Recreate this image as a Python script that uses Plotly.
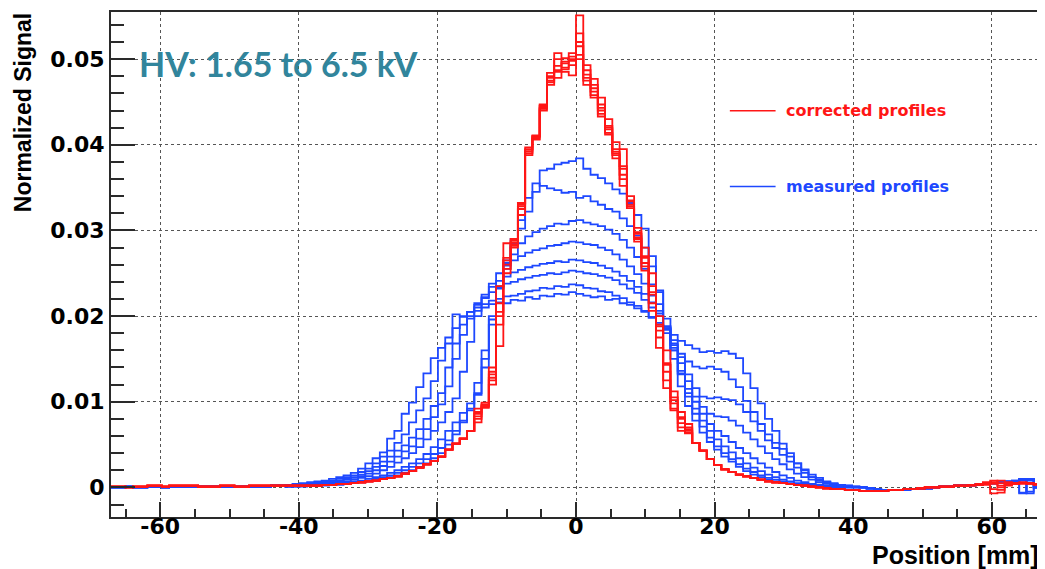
import numpy as np
import plotly.graph_objects as go

# ---------------- binning (histogram definition) ----------------
n_bins = 128
x_lo, x_hi = -67.1, 67.1
unit = 1e-4  # all values below are in units of 1e-4

# ---------------- corrected profiles (red) ----------------
# bins 0-49 (shared left tail)
red_left = [1, 1, 0, 1, 1, 2, 2, 1, 2, 2, 2, 2, 1, 1, 1, 2, 2, 1, 1, 2,
            2, 2, 2, 2, 2, 2, 2, 2, 2, 3,
            3, 4, 4, 5, 6, 7, 8, 10, 11, 13,
            16, 19, 23, 27, 31, 36, 44, 51, 57, 66]
# bins 50-79 (core, one list per profile)
red_core_1 = [80, 95, 125, 190, 255, 282, 325, 390, 407, 442, 475, 487, 495, 503, 551,
              487, 470, 447, 422, 395, 372, 335, 298, 270, 235, 188, 143, 102, 80, 70]
red_core_2 = [88, 97, 135, 215, 268, 288, 332, 395, 410, 446, 480, 500, 490, 498, 530,
              478, 462, 440, 418, 390, 365, 330, 292, 262, 225, 183, 135, 98, 75, 66]
red_core_3 = [92, 99, 140, 235, 285, 290, 330, 388, 406, 443, 484, 507, 501, 507, 520,
              493, 477, 455, 430, 403, 395, 340, 303, 280, 250, 200, 160, 112, 88, 74]
red_core_4 = [76, 93, 120, 165, 250, 280, 318, 392, 410, 445, 470, 478, 485, 481, 505,
              475, 458, 436, 414, 388, 360, 328, 290, 258, 215, 175, 125, 92, 70, 64]
red_core_5 = [86, 96, 128, 200, 260, 284, 328, 394, 409, 440, 478, 492, 497, 500, 515,
              482, 466, 443, 420, 392, 375, 334, 296, 268, 228, 190, 145, 105, 82, 68]
red_core_6 = [83, 94, 132, 205, 265, 286, 332, 397, 411, 447, 473, 485, 488, 493, 500,
              470, 455, 433, 412, 384, 352, 326, 287, 253, 206, 163, 116, 90, 66, 63]
# bins 80-117 (shared right tail)
red_right = [52, 43, 33, 26, 21, 18, 15, 13, 11, 9, 7, 6, 5, 4, 3, 2, 1, 0, -1, -2,
             -2, -3, -3, -4, -4, -4, -4, -3, -3, -2, -2, -1, 0, 0, 1, 1, 2, 2]
# bins 118-127 (edge, one list per profile)
red_edge_1 = [3, 3, 4, 8, 5, 4, 5, 5, 4, 3]
red_edge_2 = [3, 4, 5, -7, -6, 3, 4, 5, 5, 4]
red_edge_3 = [3, 4, 6, 4, 8, 6, 5, 6, 5, 4]
red_edge_4 = [2, 3, 4, -2, -3, 2, 4, 4, 4, 3]
red_edge_5 = [3, 3, 4, 5, 2, 4, 5, 5, 5, 4]
red_edge_6 = [2, 3, 3, 6, 0, 3, 4, 5, 5, 4]

# ---------------- measured profiles (blue) ----------------
# bins 0-23 (shared left tail)
blue_left = [0, 0, 1, 0, 0, 1, 1, 0, 1, 1, 1, 1, 1, 1, 1, 1, 1, 1, 1, 1, 1, 1, 2, 2]
# bins 24-103 (core, one list per profile)
blue_core_1 = [1, 1, 1, 2, 2, 2, 3, 3, 4, 5,
               6, 7, 8, 10, 12, 14, 17, 20, 24, 28,
               34, 40, 50, 62, 76, 90, 108, 140, 190, 235,
               262, 285, 302, 322, 345, 370, 372, 377, 379, 381,
               384, 372, 365, 361, 355, 348, 343, 332, 318, 302,
               270, 228, 186, 150, 118, 95, 78, 64, 53, 44,
               36, 30, 24, 19, 15, 12, 9, 7, 5, 4,
               3, 2, 2, 1, 1, 0, 0, 0, 0, 0]
blue_core_2 = [1, 1, 2, 2, 2, 3, 3, 4, 5, 6,
               7, 8, 10, 12, 14, 17, 20, 24, 28, 33,
               39, 46, 55, 66, 78, 92, 110, 150, 196, 234,
               265, 290, 312, 338, 355, 352, 349, 347, 344, 345,
               338, 340, 334, 330, 325, 322, 314, 305, 294, 280,
               258, 230, 197, 163, 132, 106, 86, 71, 58, 48,
               40, 33, 27, 22, 18, 14, 11, 9, 7, 5,
               4, 3, 2, 2, 1, 1, 0, 0, 0, 0]
blue_core_3 = [1, 2, 2, 2, 3, 3, 4, 5, 6, 7,
               8, 10, 12, 14, 17, 20, 24, 28, 33, 39,
               47, 56, 66, 76, 87, 98, 122, 160, 200, 232,
               255, 272, 285, 293, 298, 302, 305, 308, 307, 311,
               312, 309, 307, 305, 301, 296, 289, 280, 269, 255,
               237, 214, 188, 160, 133, 110, 92, 78, 66, 56,
               48, 41, 34, 28, 23, 19, 15, 12, 9, 7,
               5, 4, 3, 2, 2, 1, 1, 0, 0, 0]
blue_core_4 = [2, 2, 3, 3, 4, 4, 5, 6, 7, 9,
               11, 13, 16, 20, 24, 29, 34, 40, 47, 56,
               66, 76, 88, 104, 135, 170, 200, 222, 238, 250,
               259, 265, 270, 274, 277, 279, 282, 283, 285, 287,
               286, 284, 283, 280, 277, 272, 266, 258, 249, 238,
               224, 206, 184, 160, 136, 115, 100, 86, 74, 66,
               60, 53, 46, 40, 34, 28, 23, 18, 14, 11,
               8, 6, 4, 3, 2, 2, 1, 1, 0, 0]
blue_core_5 = [2, 3, 3, 4, 4, 5, 6, 7, 9, 11,
               13, 16, 20, 25, 30, 36, 42, 48, 57, 68,
               82, 97, 118, 150, 178, 200, 215, 225, 234, 241,
               246, 251, 254, 257, 259, 261, 262, 264, 263, 266,
               265, 263, 262, 259, 256, 252, 247, 241, 234, 226,
               216, 203, 186, 166, 145, 124, 106, 94, 86, 83,
               82, 78, 72, 64, 56, 48, 40, 33, 27, 21,
               16, 12, 9, 6, 4, 3, 2, 1, 1, 0]
blue_core_6 = [3, 3, 4, 4, 5, 6, 7, 8, 10, 12,
               15, 19, 24, 30, 36, 43, 49, 58, 68, 80,
               95, 110, 140, 168, 190, 205, 213, 221, 228, 233,
               238, 240, 243, 245, 247, 248, 250, 249, 251, 253,
               252, 250, 249, 247, 245, 242, 237, 232, 227, 219,
               210, 200, 188, 172, 152, 132, 116, 106, 104, 105,
               103, 102, 97, 88, 77, 66, 55, 46, 38, 30,
               23, 17, 12, 8, 6, 4, 3, 2, 1, 0]
blue_core_7 = [3, 4, 4, 5, 6, 7, 8, 10, 12, 14,
               18, 22, 28, 36, 43, 52, 62, 76, 90, 104,
               124, 148, 168, 186, 200, 205, 210, 214, 218, 220,
               223, 224, 226, 229, 230, 233, 232, 235, 234, 237,
               236, 233, 232, 229, 228, 224, 221, 216, 212, 206,
               199, 190, 180, 168, 156, 147, 141, 139, 141, 138,
               135, 126, 117, 101, 88, 74, 62, 52, 45, 36,
               28, 21, 15, 11, 7, 5, 3, 2, 1, 0]
blue_core_8 = [3, 4, 5, 6, 7, 8, 10, 12, 14, 17,
               22, 28, 34, 41, 57, 66, 86, 99, 117, 133,
               151, 163, 175, 202, 199, 197, 206, 210, 214, 216,
               215, 219, 218, 222, 220, 224, 223, 226, 225, 228,
               226, 224, 222, 223, 219, 220, 215, 213, 209, 205,
               198, 192, 185, 178, 171, 166, 162, 158, 159, 157,
               159, 156, 151, 133, 116, 98, 80, 66, 51, 40,
               28, 20, 12, 9, 6, 4, 3, 2, 1, 0]
# bins 104-117 (shared right tail)
blue_right = [-1, -2, -3, -3, -3, -3, -2, -2, -1, 0, 1, 1, 2, 3]
# bins 118-127 (edge, one list per profile)
blue_edge_1 = [3, 4, 5, 5, 6, 7, 8, 10, -7, 0]
blue_edge_2 = [3, 4, 4, 5, 6, 6, 7, 9, 10, 0]
blue_edge_3 = [3, 3, 4, 5, 5, 6, 7, -6, 9, 0]
blue_edge_4 = [3, 4, 4, 5, 6, 7, 8, 10, -5, 0]
blue_edge_5 = [2, 3, 4, 5, 5, 6, 7, 8, 9, 0]
blue_edge_6 = [3, 4, 5, 5, 6, 7, 7, 9, 10, 0]
blue_edge_7 = [3, 3, 4, 5, 6, 6, 7, -7, 8, 0]
blue_edge_8 = [2, 3, 4, 4, 5, 6, 7, 9, 10, 0]

# ---------------- text ----------------
x_tick_vals = [-60, -40, -20, 0, 20, 40, 60]
x_tick_text = ["-60", "-40", "-20", "0", "20", "40", "60"]
y_tick_vals = [0, 0.01, 0.02, 0.03, 0.04, 0.05]
y_tick_text = ["0", "0.01", "0.02", "0.03", "0.04", "0.05"]
x_title = "Position [mm]"
y_title = "Normalized Signal"
hv_label = "HV: 1.65 to 6.5 kV"
legend_red = "corrected profiles"
legend_blue = "measured profiles"

RED = "rgb(255,22,22)"
BLUE = "rgb(30,72,255)"

red_sets = [
    (red_core_1, red_edge_1), (red_core_2, red_edge_2), (red_core_3, red_edge_3),
    (red_core_4, red_edge_4), (red_core_5, red_edge_5), (red_core_6, red_edge_6),
]
blue_sets = [
    (blue_core_1, blue_edge_1), (blue_core_2, blue_edge_2), (blue_core_3, blue_edge_3),
    (blue_core_4, blue_edge_4), (blue_core_5, blue_edge_5), (blue_core_6, blue_edge_6),
    (blue_core_7, blue_edge_7), (blue_core_8, blue_edge_8),
]

edges = np.linspace(x_lo, x_hi, n_bins + 1)


def step_xy(values):
    v = np.asarray(values, dtype=float) * unit
    return edges, np.append(v, v[-1])


fig = go.Figure()
for core, edge in blue_sets:
    vals = blue_left + core + blue_right + edge
    xs, ys = step_xy(vals)
    fig.add_trace(go.Scatter(x=xs, y=ys, mode="lines", line=dict(color=BLUE, width=1.8, shape="hv"),
                             hoverinfo="skip", showlegend=False))
for core, edge in red_sets:
    vals = red_left + core + red_right + edge
    xs, ys = step_xy(vals)
    fig.add_trace(go.Scatter(x=xs, y=ys, mode="lines", line=dict(color=RED, width=1.8, shape="hv"),
                             hoverinfo="skip", showlegend=False))

y_lo, y_hi = -0.003456, 0.0555
axis_col = "#2a2a2a"
grid_col = "#555555"

# the page body has an 8px margin: the figure is sized/offset to compensate
fig.update_layout(
    width=1037, height=561,
    margin=dict(l=103, r=2, t=2, b=52),
    plot_bgcolor="white", paper_bgcolor="white",
    showlegend=False,
)
fig.update_xaxes(
    range=[x_lo, x_hi], tickvals=x_tick_vals, ticktext=x_tick_text,
    ticks="inside", ticklen=15, tickwidth=2, tickcolor=axis_col,
    showline=True, linecolor=axis_col, linewidth=2, mirror=True,
    showgrid=True, gridcolor=grid_col, gridwidth=1, griddash="dot", zeroline=False,
    tickfont=dict(family="DejaVu Sans", size=22, color="black", weight="bold"),
    ticklabelstandoff=-11,
    minor=dict(tick0=0, dtick=5, ticks="inside", ticklen=8, tickwidth=1.5, tickcolor=axis_col, showgrid=False),
)
fig.update_yaxes(
    range=[y_lo, y_hi], tickvals=y_tick_vals, ticktext=y_tick_text,
    ticks="inside", ticklen=24, tickwidth=2, tickcolor=axis_col,
    showline=True, linecolor=axis_col, linewidth=2, mirror=True,
    showgrid=True, gridcolor=grid_col, gridwidth=1, griddash="dot", zeroline=False,
    tickfont=dict(family="DejaVu Sans", size=22, color="black", weight="bold"),
    minor=dict(tick0=0, dtick=0.002, ticks="inside", ticklen=13, tickwidth=1.5, tickcolor=axis_col, showgrid=False),
)

# legend drawn as in the original (lines + coloured labels)
leg_x0, leg_x1, leg_tx = 22.2, 28.8, 30.0
leg_y_red, leg_y_blue = 0.04398, 0.03514
fig.add_shape(type="line", xref="x", yref="y", x0=leg_x0, x1=leg_x1, y0=leg_y_red, y1=leg_y_red,
              line=dict(color=RED, width=1.5))
fig.add_shape(type="line", xref="x", yref="y", x0=leg_x0, x1=leg_x1, y0=leg_y_blue, y1=leg_y_blue,
              line=dict(color=BLUE, width=1.5))
fig.add_annotation(x=leg_tx, y=leg_y_red, xref="x", yref="y", text=legend_red, showarrow=False,
                   xanchor="left", yanchor="middle",
                   font=dict(family="DejaVu Sans", size=16, color=RED, weight="bold"))
fig.add_annotation(x=leg_tx, y=leg_y_blue, xref="x", yref="y", text=legend_blue, showarrow=False,
                   xanchor="left", yanchor="middle",
                   font=dict(family="DejaVu Sans", size=16, color=BLUE, weight="bold"))

fig.add_annotation(x=-63.3, y=0.04945, xref="x", yref="y", text=hv_label, showarrow=False,
                   xanchor="left", yanchor="middle",
                   font=dict(family="Lato", size=34, color="#31859C", weight="bold"))

fig.add_annotation(x=0.9985, y=0.0, xref="paper", yref="paper", text=x_title, showarrow=False,
                   xanchor="right", yanchor="top", yshift=-23, borderpad=0,
                   font=dict(family="Liberation Sans", size=25, color="black", weight="bold"))
fig.add_annotation(x=-0.0944, y=0.80, xref="paper", yref="paper", text=y_title, showarrow=False,
                   textangle=-90, xanchor="center", yanchor="middle",
                   font=dict(family="Liberation Sans", size=23, color="black", weight="bold"))

fig.write_html("out.html")
